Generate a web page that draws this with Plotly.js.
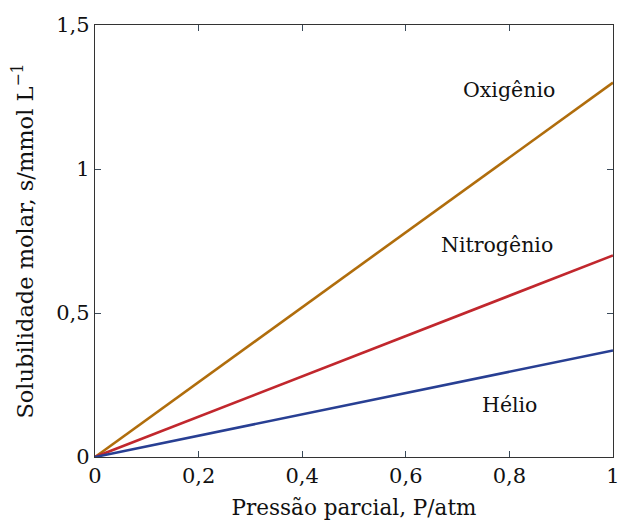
<!DOCTYPE html>
<html><head><meta charset="utf-8">
<script src="https://cdn.plot.ly/plotly-3.0.1.min.js"></script>
<style>body{margin:0;padding:0;background:#fff}#c{width:618px;height:522px}</style>
</head><body><div id="c"></div>
<script>
const pressure = [0, 1];
const oxigenio = [0, 1.3];
const nitrogenio = [0, 0.7];
const helio = [0, 0.37];
const labels = ["Oxigênio", "Nitrogênio", "Hélio"];
const labelX = [0.80, 0.776, 0.80];
const labelY = [1.274, 0.736, 0.18];
const xTicks = [0, 0.2, 0.4, 0.6, 0.8, 1];
const xTickText = ["0", "0,2", "0,4", "0,6", "0,8", "1"];
const yTicks = [0, 0.5, 1, 1.5];
const yTickText = ["0", "0,5", "1", "1,5"];

const font = "'DejaVu Serif', 'Liberation Serif', serif";
const traces = [
  {x: pressure, y: oxigenio, mode: "lines", line: {color: "#b06d0c", width: 2.6}},
  {x: pressure, y: nitrogenio, mode: "lines", line: {color: "#c1272d", width: 2.6}},
  {x: pressure, y: helio, mode: "lines", line: {color: "#283f93", width: 2.6}}
];
const axisCommon = {
  showgrid: false, zeroline: false, showline: true, linecolor: "#333", linewidth: 1.2,
  mirror: "ticks", ticks: "inside", ticklen: 6, tickcolor: "#3a4a5a", tickwidth: 1,
  ticklabeloverflow: "allow",
  tickfont: {family: font, size: 21, color: "#111"}
};
const layout = {
  width: 618, height: 522,
  margin: {l: 95, r: 5, t: 25, b: 65},
  paper_bgcolor: "#fff", plot_bgcolor: "#fff",
  showlegend: false,
  font: {family: font, color: "#111"},
  xaxis: Object.assign({}, axisCommon, {
    range: [0, 1], tickvals: xTicks, ticktext: xTickText,
    title: {text: "Pressão parcial, P/atm", font: {family: font, size: 21.5, color: "#111"}, standoff: 12}
  }),
  yaxis: Object.assign({}, axisCommon, {
    range: [0, 1.5], tickvals: yTicks, ticktext: yTickText,
    title: {text: "Solubilidade molar, s/mmol L<sup>−1</sup>", font: {family: font, size: 22.5, color: "#111"}, standoff: 16}
  }),
  annotations: labels.map((t, i) => ({
    x: labelX[i], y: labelY[i], xref: "x", yref: "y", text: t, showarrow: false,
    font: {family: font, size: 20.5, color: "#111"}
  }))
};
Plotly.newPlot("c", traces, layout, {displayModeBar: false, staticPlot: true});
</script></body></html>
